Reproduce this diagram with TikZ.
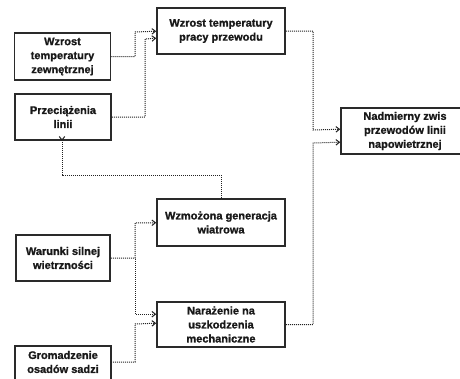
\documentclass[tikz,border=0pt]{standalone}
\usepackage{fontspec}
\setmainfont{Liberation Sans}
\newfontfamily\heavyfont{Liberation Sans Bold}[FakeBold=1.2]
\usetikzlibrary{arrows.meta,calc}
\definecolor{bx}{HTML}{2A2A2A}
\definecolor{ln}{HTML}{222222}
\begin{document}
\begin{tikzpicture}[x=1pt,y=-1pt,
  box/.style={draw=bx,line width=1.6pt,fill=white,align=center,inner sep=1pt,
    font=\heavyfont\fontsize{11}{14}\selectfont,text=black!90},
  conn/.style={draw=ln,line width=1pt,densely dotted,-{Straight Barb[length=3.5pt,width=5.5pt,line width=1pt]}}]
\useasboundingbox (0,0) rectangle (460,378);
\clip (0,0) rectangle (460,378);
\node[box,minimum width=96pt,minimum height=47pt] (A) at (62.5,56.5) {Wzrost\\temperatury\\zewnętrznej};
\node[box,minimum width=96pt,minimum height=46pt] (B) at (63,117) {Przeciążenia\\linii};
\node[box,minimum width=128pt,minimum height=46pt] (C) at (221,31) {Wzrost temperatury\\pracy przewodu};
\node[box,minimum width=128pt,minimum height=46pt] (D) at (405,131) {Nadmierny zwis\\przewodów linii\\napowietrznej};
\node[box,minimum width=128pt,minimum height=47pt] (E) at (221,222.5) {Wzmożona generacja\\wiatrowa};
\node[box,minimum width=94pt,minimum height=46pt] (F) at (63,258) {Warunki silnej\\wietrzności};
\node[box,minimum width=128pt,minimum height=45pt] (G) at (221,324.5) {Narażenie na\\uszkodzenia\\mechaniczne};
\node[box,draw=none,fill=none,minimum width=94pt,minimum height=30pt] (H) at (63,362) {Gromadzenie\\osadów sadzi};
\draw[draw=bx,line width=1.6pt] ($(H.north west)+(0,45)$) -- (H.north west) -- (H.north east) -- ($(H.north east)+(0,45)$);
% connectors
\draw[conn] (A.east) -| (135,32) -- ($(C.north west)+(0,24)$);
\draw[conn] (B.east) -| (145,39) -- ($(C.north west)+(0,31)$);
\draw[conn] (C.east) -| (313,130) -- ($(D.north west)+(0,22)$);
\draw[conn] (G.east) -| (313,143) -- ($(D.north west)+(0,35)$);
\draw[conn] (E.north) |- (62,175) -- (62,140) -- (B.south -| 62,0);
\draw[conn] (F.east) -| (135,223) -- ($(E.north west)+(0,24.5)$);
\draw[conn] (135,259) |- ($(G.north west)+(0,13)$);
\draw[conn] (H.east) -| (135,324) -- ($(G.north west)+(0,22)$);
\end{tikzpicture}
\end{document}
